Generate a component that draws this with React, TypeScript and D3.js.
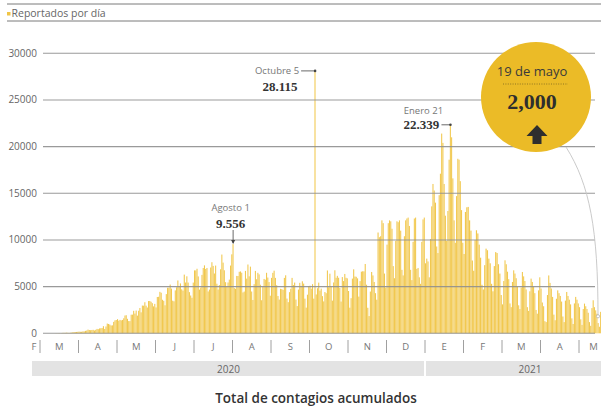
import React from 'react';
import * as d3 from 'd3';

// casos reportados por día (lectura aproximada del gráfico)
const feb2020 = [1, 3];
const mar2020 = [1, 1, 0, 1, 0, 1, 0, 0, 0, 3, 4, 4, 10, 15, 12, 29, 11, 26, 46, 46, 48, 65, 51, 38, 62, 70, 110, 131, 131, 144, 160];
const apr2020 = [178, 163, 163, 203, 200, 260, 296, 396, 353, 332, 356, 372, 299, 371, 469, 442, 522, 544, 563, 764, 465, 729, 1043, 999, 936, 835, 852, 1223, 1386, 1425];
const may2020 = [1515, 1349, 1434, 1383, 1430, 1609, 1906, 1938, 1551, 1311, 1305, 1994, 1998, 2409, 2112, 2437, 1895, 2414, 2713, 2248, 2973, 2960, 3329, 2960, 2764, 3455, 3463, 3377, 3227, 2885, 3152];
const jun2020 = [2771, 3891, 3912, 4442, 4346, 3593, 3484, 2999, 4199, 4883, 4883, 5222, 4790, 3494, 3427, 4599, 4930, 5662, 5030, 5343, 4717, 4577, 6288, 5441, 6104, 5437, 4410, 4050, 3805, 5432];
const jul2020 = [6741, 6740, 6914, 6094, 4683, 4902, 6258, 6995, 7280, 6891, 7000, 4482, 4685, 7051, 7615, 7223, 6406, 7257, 5311, 4685, 5172, 6859, 8438, 7573, 6751, 5480, 4973, 5446, 5752, 7258, 8458];
const aug2020 = [9556, 4853, 4767, 6148, 6139, 6590, 6628, 6495, 4376, 4472, 6686, 5858, 7371, 6107, 7142, 4479, 3571, 5267, 6686, 5792, 6482, 6314, 5206, 3541, 4999, 5824, 5743, 6482, 5974, 5488, 4028];
const sep2020 = [5937, 6476, 6709, 5937, 5154, 3998, 3613, 4767, 4734, 4647, 5935, 6215, 3719, 3335, 4408, 4771, 5937, 5174, 5437, 3615, 2917, 4683, 5408, 5078, 5573, 5325, 3712, 2751, 4135, 5055];
const oct2020 = [5099, 4786, 5263, 3712, 28115, 4163, 4828, 5430, 4578, 4789, 3982, 3419, 4423, 4295, 6731, 4937, 6387, 5035, 3498, 5447, 6751, 5948, 6156, 5951, 4855, 3399, 6025, 5595, 6359, 5948, 5887];
const nov2020 = [4531, 2744, 3763, 5860, 6854, 6081, 6054, 5887, 3930, 5592, 6604, 6645, 6635, 7427, 5206, 2736, 1850, 4472, 6570, 6200, 5500, 4300, 3600, 10800, 10300, 10400, 12100, 11800, 6400, 4900];
const dec2020 = [9500, 11800, 12100, 12000, 11200, 7200, 5900, 9900, 12000, 11900, 12100, 11000, 6800, 6200, 10400, 12100, 12300, 12400, 11500, 6800, 5700, 9800, 12300, 12400, 6900, 7000, 6000, 5300, 9800, 12200, 12400];
const jan2021 = [7500, 8000, 7700, 6000, 10100, 13600, 16000, 15300, 14000, 9300, 8600, 14800, 17100, 21400, 20400, 16000, 12600, 9900, 13100, 18600, 22339, 21000, 16600, 12100, 9700, 14700, 18700, 18600, 16300, 13200, 9700];
const feb2021 = [8500, 13000, 13500, 13540, 12100, 11000, 7800, 6700, 10000, 11040, 10700, 9500, 8100, 5200, 4700, 7300, 9070, 8900, 8000, 7500, 5300, 4500, 7200, 8700, 8600, 7400, 6400, 4100];
const mar2021 = [3100, 5600, 7820, 7400, 6600, 5800, 3200, 2800, 5500, 6750, 6400, 5900, 5000, 3000, 2600, 4900, 6570, 6100, 5600, 4700, 2800, 2400, 4500, 5860, 5500, 5000, 4300, 2500, 2100, 4600, 6000];
const apr2021 = [4800, 3300, 2900, 1300, 1200, 4100, 6200, 5400, 4800, 3900, 2000, 1400, 3700, 4600, 4300, 4000, 3400, 1800, 1200, 3500, 4430, 4000, 3600, 3100, 1600, 1000, 3200, 3900, 3600, 3200];
const may2021 = [2800, 1500, 900, 2600, 3180, 2900, 2600, 2200, 1200, 800, 2700, 3540, 2800, 2460, 2100, 1100, 700, 2300, 2000];

const monthBlocks: [Date, number[]][] = [
  [new Date(2020, 1, 28), feb2020],
  [new Date(2020, 2, 1), mar2020],
  [new Date(2020, 3, 1), apr2020],
  [new Date(2020, 4, 1), may2020],
  [new Date(2020, 5, 1), jun2020],
  [new Date(2020, 6, 1), jul2020],
  [new Date(2020, 7, 1), aug2020],
  [new Date(2020, 8, 1), sep2020],
  [new Date(2020, 9, 1), oct2020],
  [new Date(2020, 10, 1), nov2020],
  [new Date(2020, 11, 1), dec2020],
  [new Date(2021, 0, 1), jan2021],
  [new Date(2021, 1, 1), feb2021],
  [new Date(2021, 2, 1), mar2021],
  [new Date(2021, 3, 1), apr2021],
  [new Date(2021, 4, 1), may2021],
];

const monthLabels = ['F', 'M', 'A', 'M', 'J', 'J', 'A', 'S', 'O', 'N', 'D', 'E', 'F', 'M', 'A', 'M'];
const yTicks = [0, 5000, 10000, 15000, 20000, 25000, 30000];
const years = ['2020', '2021'];

const annotations = [
  { date: new Date(2020, 9, 5), label: 'Octubre 5', value: '28.115' },
  { date: new Date(2021, 0, 21), label: 'Enero 21', value: '22.339' },
  { date: new Date(2020, 7, 1), label: 'Agosto 1', value: '9.556' },
];

const days = monthBlocks.flatMap(([start, vals]) =>
  vals.map((v, i) => ({
    date: new Date(start.getFullYear(), start.getMonth(), start.getDate() + i),
    value: v,
  }))
);

const sans = "'Open Sans', 'Noto Sans', sans-serif";
const serif = "'Liberation Serif', 'DejaVu Serif', serif";
const yellow = '#f0c546';

export default function App() {
  const W = 601, H = 407;
  // cada mes ocupa el mismo ancho en el eje
  const monthStarts = d3.timeMonth.range(new Date(2020, 1, 1), new Date(2021, 6, 1));
  const mw = 38.5;
  const x = d3.scaleTime()
    .domain(monthStarts)
    .range(monthStarts.map((_, i) => 40 + (i - 1) * mw));
  const y = d3.scaleLinear().domain([0, 30000]).range([333.3, 53.3]);

  const barW = (d: Date) => x(d3.timeDay.offset(d, 1)) - x(d);

  const ann = annotations.map(a => {
    const d = days.find(dd => +dd.date === +a.date)!;
    return { ...a, px: x(a.date) + barW(a.date) / 2, py: y(d.value) };
  });
  const [oct, ene, ago] = ann;

  const axisLeft = 28, axisRight = 608;
  const labelMonths = monthStarts.slice(0, 16);

  const yearSplit = x(new Date(2021, 0, 1));
  const last = days[days.length - 1];

  return (
    <svg width={W} height={H} style={{ position: 'absolute', left: 0, top: 0, background: '#fff' }}>
      {/* cabecera */}
      <line x1={7} x2={W} y1={4} y2={4} stroke="#7a7a7a" strokeWidth={1} />
      <line x1={7} x2={W} y1={21} y2={21} stroke="#7a7a7a" strokeWidth={1} />
      <rect x={7} y={12} width={3.5} height={3.5} fill={yellow} />
      <text x={11.5} y={17} fontFamily={sans} fontSize={10.5} fill="#666">Reportados por día</text>

      {/* barras */}
      <g fill={yellow} fillOpacity={0.95}>
        {days.map((d, i) => (
          <rect key={i} x={x(d.date)} y={y(d.value)} width={Math.max(0.6, barW(d.date) * 0.85)}
            height={y(0) - y(d.value)} />
        ))}
      </g>

      {/* rejilla */}
      {yTicks.map(t => (
        <g key={t}>
          <line x1={43} x2={595} y1={y(t)} y2={y(t)} stroke="#8f8f8f" strokeWidth={1.1} strokeOpacity={0.9} />
          <text x={37} y={y(t) + 3.5} textAnchor="end" fontFamily={sans} fontSize={10} fill="#666">{t}</text>
        </g>
      ))}

      {/* eje de meses */}
      {monthStarts.slice(1, 16).map((m, i) => (
        <line key={i} x1={x(m)} x2={x(m)} y1={340} y2={353} stroke="#a0a0a0" strokeWidth={1} />
      ))}
      {labelMonths.map((m, i) => {
        const a = Math.max(axisLeft, x(m));
        const b = Math.min(axisRight, x(d3.timeMonth.offset(m, 1)));
        return (
          <text key={i} x={(a + b) / 2} y={350} textAnchor="middle" fontFamily={sans} fontSize={9.5} fill="#777">
            {monthLabels[i]}
          </text>
        );
      })}

      {/* años */}
      <rect x={32} y={361} width={yearSplit - 1 - 32} height={15} fill="#e3e3e3" />
      <rect x={yearSplit + 1} y={361} width={W - yearSplit} height={15} fill="#e3e3e3" />
      <text x={(32 + yearSplit) / 2} y={373} textAnchor="middle" fontFamily={sans} fontSize={10} fill="#666">{years[0]}</text>
      <text x={530} y={373} textAnchor="middle" fontFamily={sans} fontSize={10} fill="#666">{years[1]}</text>

      <text x={316} y={403} textAnchor="middle" fontFamily={sans} fontSize={13.5} fontWeight={600} fill="#333">
        Total de contagios acumulados
      </text>

      {/* anotaciones */}
      <g fontFamily={sans} fontSize={9.5} fill="#777">
        <text x={oct.px - 16} y={oct.py + 3.5} textAnchor="end">{oct.label}</text>
        <text x={ene.px - 27} y={113.5} textAnchor="middle">{ene.label}</text>
        <text x={ago.px - 2.5} y={211} textAnchor="middle">{ago.label}</text>
      </g>
      <g fontFamily={serif} fontSize={13} fontWeight={700} fill="#333">
        <text x={oct.px - 35} y={90.5} textAnchor="middle">{oct.value}</text>
        <text x={ene.px - 29} y={ene.py + 4} textAnchor="middle">{ene.value}</text>
        <text x={ago.px - 2.5} y={227.5} textAnchor="middle">{ago.value}</text>
      </g>
      <g stroke="#444" strokeWidth={0.8}>
        <line x1={oct.px - 14} x2={oct.px} y1={oct.py} y2={oct.py} />
        <line x1={ene.px - 9} x2={ene.px} y1={ene.py} y2={ene.py} />
        <line x1={ago.px} x2={ago.px} y1={230} y2={ago.py - 1} />
      </g>
      <circle cx={oct.px} cy={oct.py} r={1.3} fill="#444" />
      <circle cx={ene.px} cy={ene.py} r={1.3} fill="#444" />
      <path d={`M${ago.px - 2},${ago.py - 4} L${ago.px + 2},${ago.py - 4} L${ago.px},${ago.py}Z`} fill="#444" />

      {/* línea guía hacia el último dato */}
      <path d={`M566,147 C590,185 598,230 ${Math.min(598, x(last.date))},${y(0) - 18}`} fill="none" stroke="#c4c4c4" strokeWidth={0.9} />
      <circle cx={598} cy={y(0) - 17} r={1.6} fill="#fff" stroke="#aaa" strokeWidth={0.7} />

      {/* círculo destacado */}
      <circle cx={536} cy={97} r={55} fill="#ebbb27" />
      <text x={532} y={76} textAnchor="middle" fontFamily={sans} fontSize={13} fill="#3a3a3a">19 de mayo</text>
      <line x1={503} x2={568} y1={84} y2={84} stroke="#7a6420" strokeWidth={0.8} strokeDasharray="1 1.4" />
      <text x={532} y={109} textAnchor="middle" fontFamily={serif} fontSize={22} fontWeight={700} fill="#2e2e2e">
        {d3.format(',')(last.value)}
      </text>
      <path d="M537,125 L547.5,136 L541.5,136 L541.5,144 L532.5,144 L532.5,136 L526.5,136 Z" fill="#2e2e2e" />
    </svg>
  );
}
